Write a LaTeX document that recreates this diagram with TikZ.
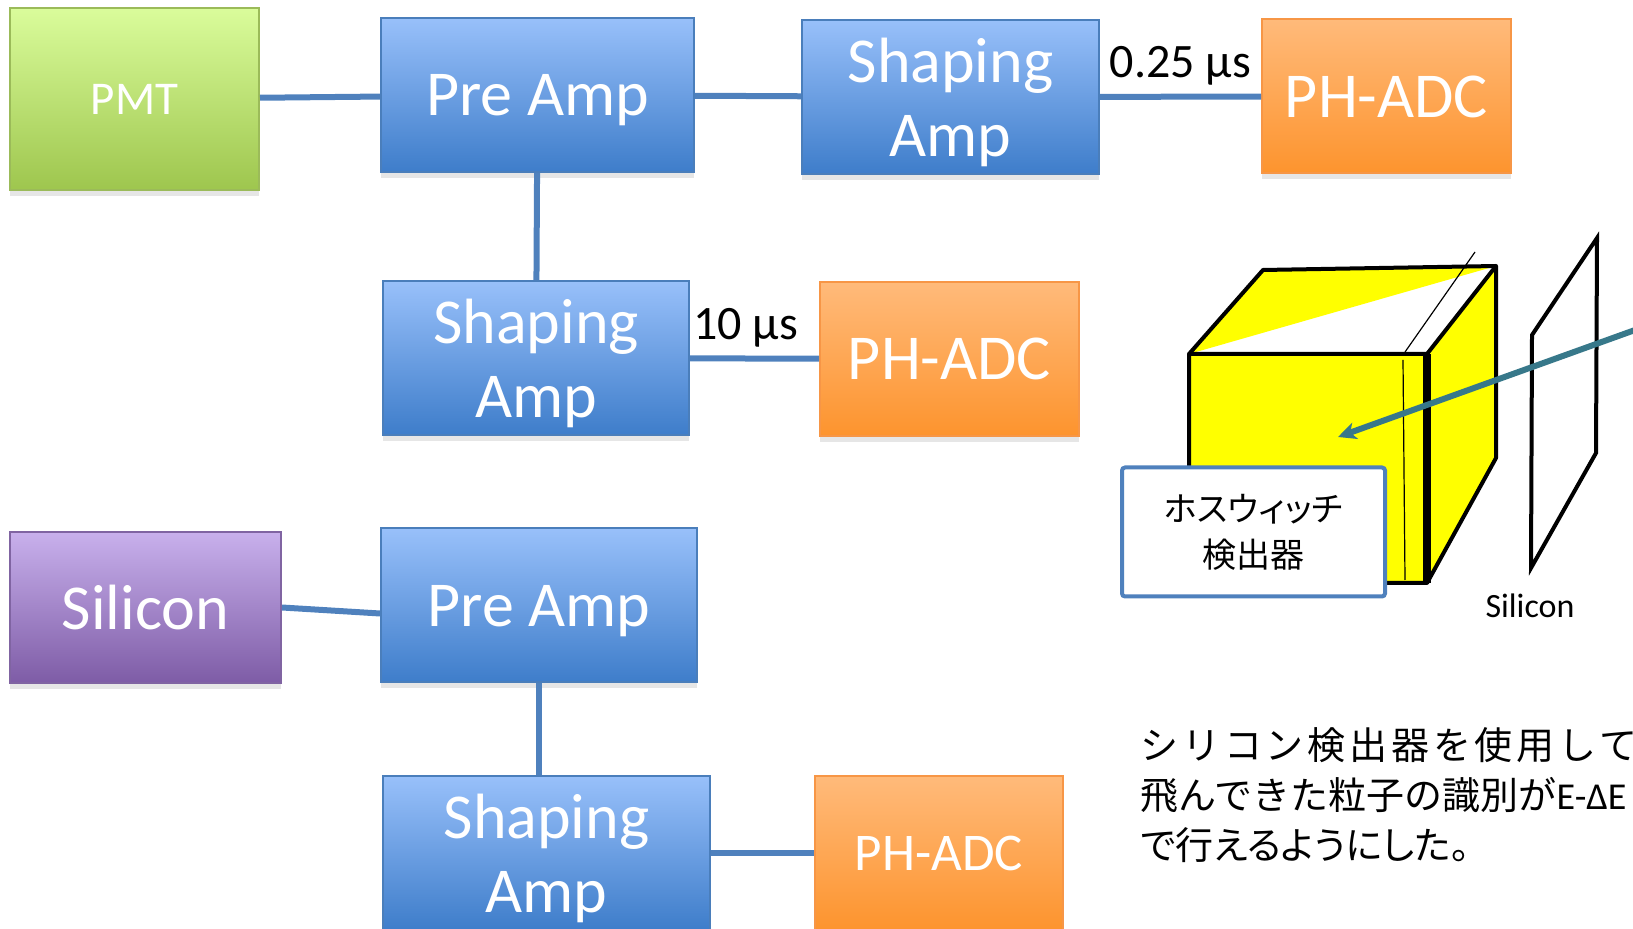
\documentclass[tikz,border=0pt]{standalone}
\usepackage{fontspec}
\setmainfont{Carlito}
\newfontfamily\jpfont{Noto Sans CJK JP}
\usepackage{pgf, tikz}
\usetikzlibrary{arrows, arrows.meta, shadows}

\definecolor{blueTop}{RGB}{152,192,250}
\definecolor{blueBot}{RGB}{62,125,202}
\definecolor{blueLine}{RGB}{74,126,187}
\definecolor{orangeTop}{RGB}{255,186,122}
\definecolor{orangeBot}{RGB}{253,148,46}
\definecolor{orangeLine}{RGB}{247,150,70}
\definecolor{greenTop}{RGB}{218,252,155}
\definecolor{greenBot}{RGB}{158,198,78}
\definecolor{greenLine}{RGB}{155,187,89}
\definecolor{purpleTop}{RGB}{200,176,236}
\definecolor{purpleBot}{RGB}{126,92,166}
\definecolor{purpleLine}{RGB}{128,100,162}
\definecolor{wireBlue}{RGB}{79,129,189}
\definecolor{beamTeal}{RGB}{55,120,138}
\definecolor{cubeYellow}{RGB}{255,255,0}

\begin{document}
\begin{tikzpicture}[
    x = 0.5pt, y = -0.5pt, % one unit = one pixel, y pointing down
    > = {Stealth[length = 9pt, width = 8.5pt, inset = 2.5pt]}, % arrow head style
    semithick % line style
]
\clip (0,0) rectangle (1633,929);

\tikzstyle{block}=[
    rectangle,
    line width = 1pt,
    inner sep = 0pt,
    text = white,
    text depth = 0pt,
    align = center,
    drop shadow = {opacity = .2, shadow xshift = 0pt, shadow yshift = -3pt}
]
\tikzstyle{amp}=[block, draw = blueLine, top color = blueTop, bottom color = blueBot,
    minimum height = 77pt, font = \fontsize{32}{37}\selectfont]
\tikzstyle{adc}=[block, draw = orangeLine, top color = orangeTop, bottom color = orangeBot,
    minimum height = 77pt, font = \fontsize{32}{37}\selectfont]
\tikzstyle{wire}=[draw = wireBlue, line width = 3pt]
\tikzstyle{shaping time}=[above, inner sep = 4pt, text = black, font = \fontsize{24}{28}\selectfont]

% PMT chain
\node[block, draw = greenLine, top color = greenTop, bottom color = greenBot,
    minimum width = 124.5pt, minimum height = 91pt, font = \fontsize{23.5}{28}\selectfont] (PMT) at (134.5,99) {PMT};
\node[amp, minimum width = 156.5pt] (Pre Amp PMT) at (537.5,95) {Pre Amp};
\node[amp, minimum width = 148.5pt] (Shaping Amp Fast) at (950.5,97) {Shaping\\Amp};
\node[adc, minimum width = 124.5pt] (PH-ADC Fast) at (1386.5,96.5) {PH-ADC};
\node[amp, minimum width = 153pt] (Shaping Amp Slow) at (536,358) {Shaping\\Amp};
\node[adc, minimum width = 129.5pt] (PH-ADC Slow) at (949.5,359) {PH-ADC};

% silicon chain
\node[block, draw = purpleLine, top color = purpleTop, bottom color = purpleBot,
    minimum width = 135.5pt, minimum height = 75.5pt, font = \fontsize{32}{37}\selectfont] (Silicon) at (145.5,607.5) {Silicon};
\node[amp, minimum width = 158pt] (Pre Amp Si) at (539,605.5) {Pre Amp};
\node[amp, minimum width = 163.5pt] (Shaping Amp Si) at (546.5,853) {Shaping\\Amp};
\node[adc, minimum width = 124pt, font = \fontsize{26.5}{30}\selectfont] (PH-ADC Si) at (939,853) {PH-ADC};

\path[wire] (PMT) edge (Pre Amp PMT);
\path[wire] (Pre Amp PMT) edge (Shaping Amp Fast);
\path[wire] (Shaping Amp Fast) edge node[shaping time] {0.25 μs} (PH-ADC Fast);
\path[wire] (Pre Amp PMT) edge (Shaping Amp Slow);
\path[wire] (Shaping Amp Slow) edge node[shaping time, pos = .43] {10 μs} (PH-ADC Slow);
\path[wire] (Silicon.east) edge ([yshift = -4pt]Pre Amp Si.west);
\path[wire] (Pre Amp Si.south) edge (Pre Amp Si.south |- Shaping Amp Si.north);
\path[wire] (Shaping Amp Si) edge (PH-ADC Si);

% phoswich cube
\coordinate (f1) at (1189,354);
\coordinate (f2) at (1427,354);
\coordinate (f3) at (1427,583);
\coordinate (f4) at (1189,583);
\coordinate (b1) at (1263,270);
\coordinate (b2) at (1496,266);
\coordinate (b3) at (1496,458);
\fill[cubeYellow] (f1) -- (b1) -- (b2) -- cycle;
\fill[cubeYellow] (f1) -- (f2) -- (f3) -- (f4) -- cycle;
\fill[cubeYellow] (f2) -- (b2) -- (b3) -- (f3) -- cycle;
\draw[line width = 2pt, line join = round] (f1) -- (b1) -- (b2) -- (b3) -- (f3) -- (f4) -- cycle;
\draw[line width = 2pt] (f1) -- (f2) (f2) -- (b2);
\draw[line width = 4pt] (f2) -- (f3);
\draw[line width = .6pt] (1475,252) -- (1405,352) (1403,360) -- (1405,580);

% silicon plane
\coordinate (s1) at (1532,335);
\coordinate (s2) at (1597,238);
\coordinate (s3) at (1596,453);
\coordinate (s4) at (1531,568);
\draw[line width = 2pt, fill = white] (s1) -- (s2) -- (s3) -- (s4) -- cycle;
\node[font = \fontsize{17}{20}\selectfont] (Silicon Label) at (1530,606) {Silicon};

% incoming particle
\coordinate (beam) at (1660,321);
\coordinate (hit) at (1338,437);
\draw[->, draw = beamTeal, line width = 3pt] (beam) -- (hit);

\node[draw = wireBlue, line width = 2pt, fill = white, rounded corners = 1.5pt,
    minimum width = 131.5pt, minimum height = 64.5pt, align = center,
    font = \jpfont\addfontfeatures{RawFeature = +palt}\fontsize{17}{23}\selectfont] (Phoswich) at (1253.5,532) {ホスウィッチ\\検出器};

\node[anchor = north west, inner sep = 0pt, align = left,
    font = \jpfont\fontsize{19}{25}\selectfont] (Note) at (1140,727)
    {{\addfontfeatures{LetterSpace = 10}シリコン検出器を使用して}\\飛んできた粒子の識別が{\rmfamily E-ΔE}\\{\addfontfeatures{RawFeature = +palt}で行えるようにした。}};

\end{tikzpicture}
\end{document}
